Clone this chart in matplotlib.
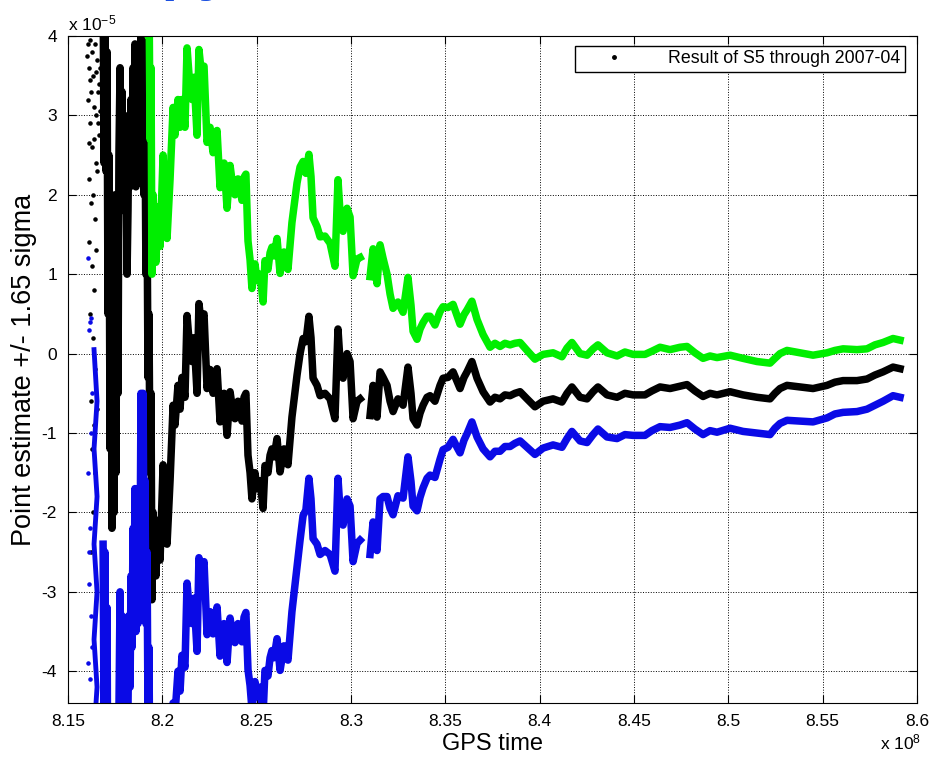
import numpy as np
import matplotlib
matplotlib.use("Agg")
import matplotlib.pyplot as plt
from matplotlib.lines import Line2D

plt.rcParams['font.family'] = ['Liberation Sans', 'DejaVu Sans']
plt.rcParams['mathtext.default'] = 'regular'
plt.rcParams['axes.unicode_minus'] = False

# GPS time in units of 1e8 s, estimate and 1.65 sigma in units of 1e-5
gps_t = [8.1686, 8.1691, 8.1696, 8.1701, 8.1707, 8.1712, 8.1717, 8.1723, 8.1728, 8.1733,
         8.1739, 8.1744, 8.1749, 8.1754, 8.1760, 8.1765, 8.1770, 8.1776, 8.1781, 8.1786,
         8.1792, 8.1797, 8.1802, 8.1807, 8.1813, 8.1818, 8.1823, 8.1829, 8.1834, 8.1839,
         8.1845, 8.1850, 8.1855, 8.1860, 8.1866, 8.1871, 8.1876, 8.1882, 8.1887, 8.1892,
         8.1898, 8.1903, 8.1908, 8.1913, 8.1919, 8.1924, 8.1929, 8.1935, 8.1940, 8.1945,
         8.1951, 8.1966, 8.1977, 8.1988, 8.2004, 8.2014, 8.2025, 8.2041, 8.2057, 8.2067,
         8.2083, 8.2094, 8.2104, 8.2120, 8.2131, 8.2147, 8.2157, 8.2168, 8.2184, 8.2194,
         8.2205, 8.2221, 8.2237, 8.2253, 8.2269, 8.2290, 8.2306, 8.2327, 8.2343, 8.2359,
         8.2375, 8.2385, 8.2401, 8.2412, 8.2422, 8.2433, 8.2443, 8.2454, 8.2465, 8.2475,
         8.2491, 8.2502, 8.2518, 8.2534, 8.2544, 8.2560, 8.2571, 8.2581, 8.2592, 8.2608,
         8.2624, 8.2645, 8.2661, 8.2666, 8.2687, 8.2714, 8.2730, 8.2746, 8.2761, 8.2777,
         8.2788, 8.2799, 8.2820, 8.2836, 8.2862, 8.2889, 8.2915, 8.2931, 8.2942, 8.2958,
         8.2979, 8.2995, 8.3011, 8.3032, 8.3048, 8.3075, 8.3101, 8.3117, 8.3138, 8.3154,
         8.3170, 8.3191, 8.3207, 8.3223, 8.3249, 8.3276, 8.3302, 8.3318, 8.3329, 8.3350,
         8.3366, 8.3382, 8.3403, 8.3419, 8.3445, 8.3472, 8.3488, 8.3514, 8.3541, 8.3562,
         8.3578, 8.3599, 8.3615, 8.3641, 8.3668, 8.3700, 8.3737, 8.3763, 8.3790, 8.3816,
         8.3843, 8.3869, 8.3896, 8.3933, 8.3975, 8.4018, 8.4071, 8.4118, 8.4145, 8.4171,
         8.4214, 8.4251, 8.4283, 8.4309, 8.4357, 8.4410, 8.4452, 8.4495, 8.4558, 8.4595,
         8.4638, 8.4691, 8.4744, 8.4781, 8.4823, 8.4866, 8.4903, 8.4940, 8.5009, 8.5078,
         8.5152, 8.5221, 8.5247, 8.5274, 8.5311, 8.5380, 8.5449, 8.5523, 8.5565, 8.5608,
         8.5682, 8.5735, 8.5777, 8.5820, 8.5873, 8.5910]
point_est = [4.6, 2.4, 4.5, 2.3, 3.8, 0.5, 2.5, -1.2, 1.9, -2.2,
             1.2, -2.0, 2.0, -1.5, 1.5, -0.5, 2.5, 3.6, 1.8, 3.3,
             2.0, 3.0, 1.8, 2.6, 1.0, 1.8, 3.0, 2.1, 3.2, 2.3,
             3.6, 2.5, 3.9, 2.1, 3.7, 2.2, 3.8, 2.5, 4.5, 3.0,
             4.3, 2.0, 3.0, 1.0, 1.8, -0.3, 0.5, -1.5, -0.5, -3.1,
             -2.0, -2.8, -2.1, -2.6, -1.4, -2.0, -2.4, -1.6, -0.65, -0.9,
             -0.4, -0.7, -0.3, -0.55, 0.48, 0.0, -0.1, 0.2, -0.5, 0.63,
             0.4, 0.5, -0.44, -0.2, -0.5, -0.19, -0.86, -0.5, -1.03, -0.48,
             -0.75, -0.82, -0.6, -0.69, -0.85, -0.55, -0.5, -1.28, -1.5, -1.83,
             -1.5, -1.7, -1.6, -1.95, -1.41, -1.5, -1.28, -1.2, -1.3, -1.07,
             -1.49, -1.2, -1.36, -1.4, -0.8, -0.27, 0.0, 0.19, 0.15, 0.47,
             0.2, -0.31, -0.4, -0.53, -0.5, -0.57, -0.82, 0.31, -0.1, -0.31,
             0.0, -0.1, -0.82, -0.6, -0.57, np.nan, -0.78, -0.4, -0.8, -0.23,
             -0.3, -0.4, -0.6, -0.73, -0.57, -0.65, -0.17, -0.5, -0.82, -0.9,
             -0.75, -0.65, -0.55, -0.53, -0.6, -0.4, -0.31, -0.3, -0.23, -0.35,
             -0.44, -0.3, -0.23, -0.1, -0.31, -0.48, -0.61, -0.55, -0.57, -0.52,
             -0.53, -0.5, -0.48, -0.57, -0.67, -0.6, -0.57, -0.61, -0.5, -0.42,
             -0.55, -0.57, -0.48, -0.42, -0.52, -0.55, -0.5, -0.52, -0.52, -0.47,
             -0.42, -0.44, -0.41, -0.39, -0.47, -0.54, -0.5, -0.52, -0.48, -0.52,
             -0.55, -0.57, -0.5, -0.44, -0.4, -0.42, -0.44, -0.4, -0.36, -0.34,
             -0.34, -0.32, -0.27, -0.23, -0.17, -0.19]
sigma165 = [7.0, 7.0, 7.0, 7.0, 7.0, 7.0, 7.0, 7.0, 7.0, 7.0,
            7.0, 7.0, 7.0, 7.0, 7.0, 7.0, 7.0, 6.6, 6.6, 6.6,
            6.6, 6.6, 6.6, 6.6, 6.6, 6.3, 6.3, 6.3, 6.0, 6.0,
            5.8, 5.8, 5.6, 5.6, 5.6, 5.6, 5.5, 5.0, 5.0, 4.8,
            4.8, 4.6, 4.6, 4.4, 4.3, 4.3, 4.2, 4.2, 4.1, 4.1,
            4.0, 3.95, 3.95, 3.95, 3.9, 3.9, 3.85, 3.8, 3.75, 3.65,
            3.6, 3.55, 3.5, 3.4, 3.37, 3.33, 3.3, 3.28, 3.25, 3.2,
            3.18, 3.12, 3.1, 3.05, 3.03, 3.0, 2.95, 2.9, 2.86, 2.85,
            2.83, 2.82, 2.8, 2.78, 2.78, 2.77, 2.76, 2.7, 2.68, 2.65,
            2.63, 2.62, 2.6, 2.6, 2.58, 2.56, 2.55, 2.54, 2.53, 2.52,
            2.5, 2.48, 2.47, 2.46, 2.45, 2.42, 2.35, 2.23, 2.12, 2.04,
            2.03, 2.02, 2.0, 2.0, 1.98, 1.96, 1.92, 1.88, 1.87, 1.85,
            1.83, 1.82, 1.8, 1.79, 1.78, np.nan, 1.75, 1.72, 1.68, 1.6,
            1.5, 1.4, 1.35, 1.3, 1.22, 1.17, 1.13, 1.11, 1.1, 1.08,
            1.06, 1.04, 1.02, 1.0, 0.96, 0.93, 0.9, 0.88, 0.85, 0.83,
            0.81, 0.79, 0.78, 0.76, 0.74, 0.72, 0.69, 0.68, 0.66, 0.65,
            0.64, 0.63, 0.62, 0.61, 0.6, 0.59, 0.58, 0.57, 0.57, 0.56,
            0.55, 0.55, 0.54, 0.53, 0.53, 0.52, 0.52, 0.51, 0.51, 0.5,
            0.5, 0.49, 0.49, 0.48, 0.48, 0.48, 0.47, 0.47, 0.46, 0.46,
            0.45, 0.45, 0.44, 0.44, 0.44, 0.43, 0.42, 0.41, 0.4, 0.4,
            0.39, 0.38, 0.38, 0.37, 0.36, 0.36]

# sparse early samples (scattered dots at the start of the run)
early_t = [8.1601, 8.1606, 8.1611, 8.1617, 8.1622, 8.1627, 8.1633, 8.1638, 8.1643, 8.1648,
           8.1654, 8.1659, 8.1664, 8.1670, 8.1606, 8.1617, 8.1627, 8.1638, 8.1648, 8.1659,
           8.1611, 8.1622, 8.1633, 8.1643, 8.1654, 8.1611, 8.1627, 8.1638, 8.1648, 8.1617,
           8.1633, 8.1643, 8.1622, 8.1638, 8.1654, 8.1627, 8.1643, 8.1617, 8.1664, 8.1670,
           8.1633, 8.1622, 8.1648, 8.1611]
early_est = [3.75, 3.9, 3.6, 3.95, 3.3, 3.8, 3.5, 3.1, 3.9, 3.0,
             3.7, 2.9, 3.4, 3.05, 3.2, 2.9, 2.6, 2.7, 2.4, 3.3,
             2.2, 1.9, 2.0, 1.7, 2.3, 1.4, 1.1, 0.8, 1.3, 0.5,
             0.2, -0.2, -0.6, -0.9, -0.7, -1.2, -1.5, 3.45, 2.75, 3.6,
             -2.0, -2.5, 3.55, 2.65]
early_low_t = [8.1606, 8.1617, 8.1611, 8.1622, 8.1606, 8.1617, 8.1611, 8.1622, 8.1606, 8.1617,
               8.1627, 8.1622, 8.1611, 8.1627]
early_low = [1.2, 0.4, 0.3, 0.45, -1.5, -2.2, -2.9, -3.3, -3.9, -4.1,
             -0.5, -1.0, -2.5, -3.7]
early_col_t = [8.1638, 8.1654, 8.1638, 8.1654, 8.1638, 8.1654, 8.1638, 8.1654, 8.1643]
early_col = [0.05, -0.6, -1.2, -1.8, -2.4, -3.0, -3.6, -4.2, -4.6]

x_ticks = [8.15, 8.2, 8.25, 8.3, 8.35, 8.4, 8.45, 8.5, 8.55, 8.6]
x_labels = ['8.15', '8.2', '8.25', '8.3', '8.35', '8.4', '8.45', '8.5', '8.55', '8.6']
y_ticks = [-4, -3, -2, -1, 0, 1, 2, 3, 4]

t = np.array(gps_t)
est = np.array(point_est)
sig = np.array(sigma165)
upper = est + sig
lower = est - sig

fig = plt.figure(figsize=(9.34, 7.59), dpi=100)
ax = fig.add_axes([0.0728, 0.0738, 0.909, 0.8788])

lw = 5.4
ax.plot(t, est, color='black', lw=lw, solid_joinstyle='round')
ax.plot(early_t, early_est, linestyle='none', marker='.', color='black', markersize=4.5)
ax.plot(t, upper, color='#00ee00', lw=lw, solid_joinstyle='round')
ax.plot(t, lower, color='#0a0ae6', lw=lw, solid_joinstyle='round')
ax.plot(early_col_t, early_col, color='#0a0ae6', lw=3.5)
ax.plot(early_low_t, early_low, linestyle='none', marker='.', color='#0a0ae6', markersize=4.5)

ax.set_xlim(8.15, 8.6)
ax.set_ylim(-4.4, 4)
ax.set_xticks(x_ticks)
ax.set_xticklabels(x_labels)
ax.set_yticks(y_ticks)
ax.tick_params(direction='in', top=True, right=True, length=6, width=0.8, labelsize=12.5, pad=8)
ax.grid(True, color='black', linestyle=':', linewidth=0.7)
for s in ax.spines.values():
    s.set_linewidth(0.8)

ax.set_xlabel('GPS time', fontsize=17, labelpad=3)
ax.set_ylabel('Point estimate +/- 1.65 sigma', fontsize=19.5, labelpad=3)

leg_handle = Line2D([], [], linestyle='none', marker='.', color='black', markersize=5)
ax.legend([leg_handle], ['Result of S5 through 2007-04'], loc='upper right',
          bbox_to_anchor=(0.986, 0.985), borderaxespad=0, fontsize=12.8,
          frameon=True, fancybox=False, edgecolor='black', framealpha=1,
          handlelength=3.9, handletextpad=1.1, borderpad=0.25)

fig.text(0.0728, 0.9605, r'x 10$^{-5}$', fontsize=12.5, ha='left', va='baseline')
fig.text(0.942, 0.012, r'x 10$^{8}$', fontsize=12.5, ha='left', va='baseline')
# slide title, cropped at the top of the picture: only descenders show
fig.text(232 / 934, 1.0145, 'Anisotropy', color='#1a4fe0', fontsize=43,
         fontweight='bold', ha='right', va='baseline')

plt.savefig('out.png', dpi=100)
